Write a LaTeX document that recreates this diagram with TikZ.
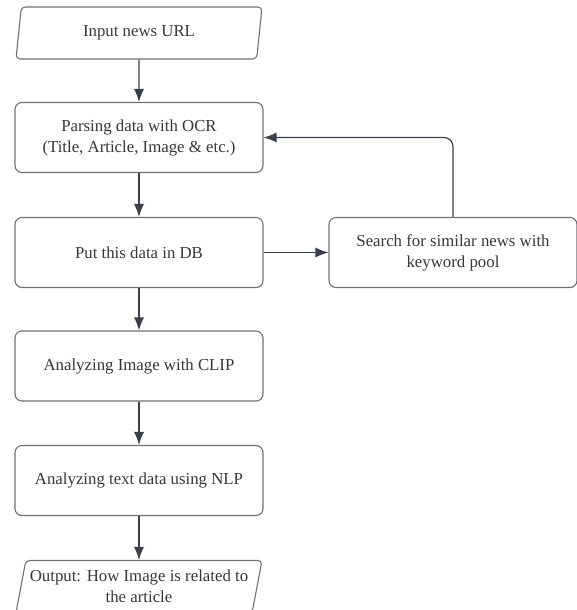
\documentclass[tikz,border=0pt]{standalone}
\usepackage{fontspec}
\setmainfont{Liberation Serif}
\usetikzlibrary{shapes.geometric,arrows.meta}

\begin{document}
\begin{tikzpicture}[x=1pt, y=-1pt,
    box/.style={draw=boxline, line width=1.1pt, rounded corners=7pt, text=txt,
        minimum width=248pt, minimum height=70pt, align=center, font=\fontsize{16.8}{21}\selectfont},
    io/.style={box, trapezium, trapezium left angle=76, trapezium right angle=104,
        trapezium stretches body=true, rounded corners=4pt, inner xsep=0pt,
        minimum width=246pt, minimum height=52pt},
    arr/.style={draw=arrline, line width=1.2pt, -{Latex[length=13pt, width=10pt]}}]

    % colours
    \definecolor{boxline}{RGB}{110, 112, 118}
    \definecolor{arrline}{RGB}{58, 64, 74}
    \definecolor{txt}{RGB}{55, 55, 58}

    \useasboundingbox (0,0) rectangle (577,610);

    % nodes
    \node[io]  (input)  at (139, 33)    {Input news URL};
    \node[box] (parse)  at (139, 137.5) {Parsing data with OCR\\(Title, Article, Image \& etc.)};
    \node[box] (db)     at (139, 252.5) {Put this data in DB};
    \node[box] (search) at (453, 252.5) {Search for similar news with\\keyword pool};
    \node[box] (clip)   at (139, 366)   {Analyzing Image with CLIP};
    \node[box] (nlp)    at (139, 480.5) {Analyzing text data using NLP};
    \node[io]  (output) at (139, 586.5) {Output: How Image is related to\\the article};

    % arrows
    \draw[arr] (input) -- (parse);
    \draw[arr] (parse) -- (db);
    \draw[arr] (db) -- (clip);
    \draw[arr] (clip) -- (nlp);
    \draw[arr] (nlp) -- (output);
    \draw[arr] (db) -- (search);
    \draw[arr, rounded corners=9pt] (search.north) |- (parse.east);

\end{tikzpicture}
\end{document}
